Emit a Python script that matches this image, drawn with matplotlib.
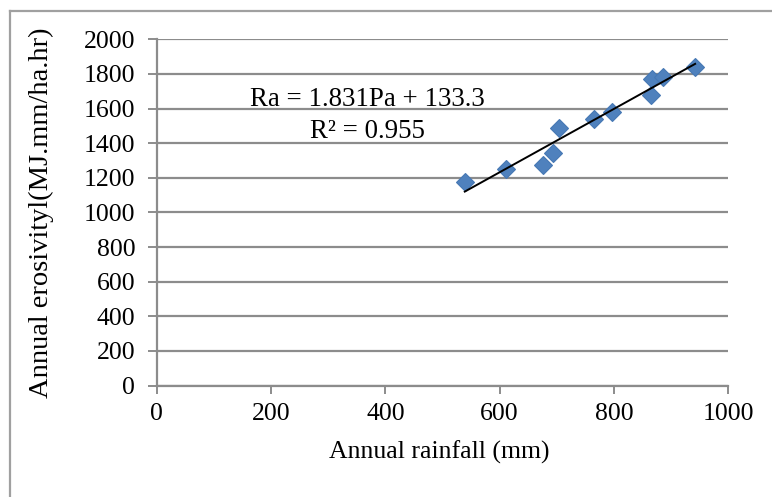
import matplotlib
matplotlib.use("Agg")
import matplotlib.pyplot as plt
from matplotlib.lines import Line2D
import numpy as np

rainfall = [539, 611, 675, 693, 703, 765, 796, 864, 867, 886, 942]
erosivity = [1177, 1248, 1273, 1344, 1490, 1537, 1582, 1681, 1771, 1784, 1842]
slope = 1.831
intercept = 133.3
eq_text = "Ra = 1.831Pa + 133.3"
r2_text = "R² = 0.955"
x_ticks = [0, 200, 400, 600, 800, 1000]
y_ticks = [0, 200, 400, 600, 800, 1000, 1200, 1400, 1600, 1800, 2000]
x_label = "Annual rainfall (mm)"
y_label = "Annual erosivityl(MJ.mm/ha.hr)"

plt.rcParams['font.family'] = ['Liberation Serif', 'DejaVu Serif']
FS = 18.5
W, H = 772, 497
fig = plt.figure(figsize=(W / 100, H / 100), dpi=100)
ax = fig.add_axes([156.7 / W, 1 - 385.5 / H, (728.3 - 156.7) / W, (385.5 - 39.3) / H])

grid_c = '#8c8c8c'
ax.set_xlim(0, 1000)
ax.set_ylim(0, 2000)
ax.set_xticks(x_ticks)
ax.set_yticks(y_ticks)
ax.yaxis.grid(True, color=grid_c, linewidth=1.6)
ax.set_axisbelow(True)
for s in ['top', 'right']:
    ax.spines[s].set_visible(False)
for s in ['left', 'bottom']:
    ax.spines[s].set_color(grid_c)
    ax.spines[s].set_linewidth(1.6)
ax.tick_params(axis='y', direction='out', length=6.5, width=1.4, color=grid_c,
               labelsize=FS, pad=9)
ax.tick_params(axis='x', direction='out', length=5.5, width=1.4, color=grid_c,
               labelsize=FS, pad=7)

ax.plot(rainfall, erosivity, linestyle='none', marker='D', markersize=9.3,
        markerfacecolor='#4F81BD', markeredgecolor='#4678B4', markeredgewidth=0.8,
        zorder=3)
xs = np.array([min(rainfall), max(rainfall)])
ax.plot(xs, slope * xs + intercept, color='black', linewidth=1.4, zorder=4)

ax.text(0.368, 0.827, eq_text, transform=ax.transAxes, ha='center', va='center',
        fontsize=19.4)
ax.text(0.368, 0.735, r2_text, transform=ax.transAxes, ha='center', va='center',
        fontsize=19.4)

ax.set_xlabel(x_label, fontsize=18.5)
ax.xaxis.set_label_coords(0.495, -0.158)
ax.set_ylabel(y_label, fontsize=20.5)
ax.yaxis.set_label_coords(-0.18, 0.5)

# chart-area border (left and top edges visible)
bx = 9.5 / W
by = 1 - 10.5 / H
fig.add_artist(Line2D([bx, bx], [0, by], transform=fig.transFigure, color='#a0a0a0', linewidth=1.6))
fig.add_artist(Line2D([bx, 1], [by, by], transform=fig.transFigure, color='#a0a0a0', linewidth=1.6))

fig.savefig("out.png", dpi=100)
